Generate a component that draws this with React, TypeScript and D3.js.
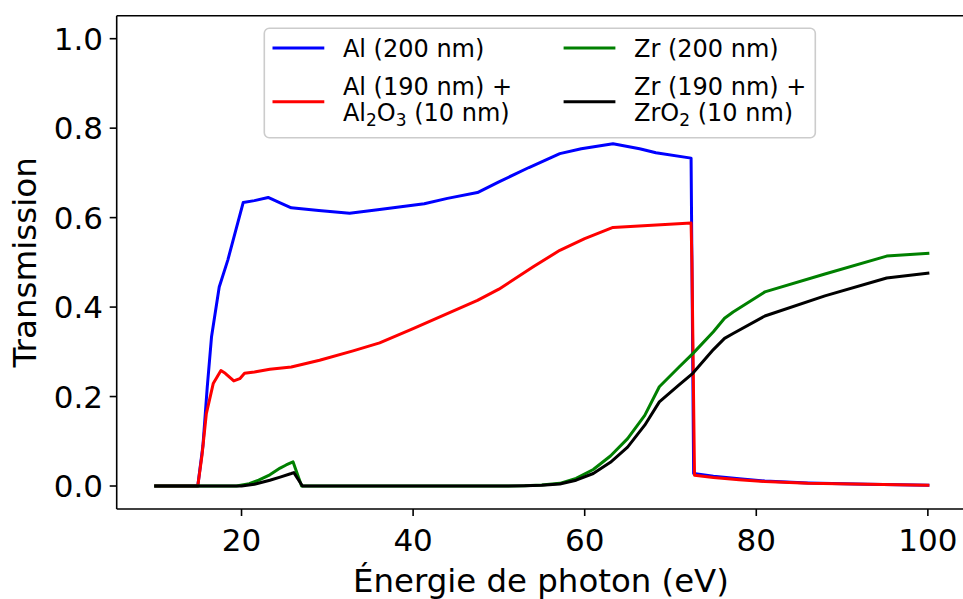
import React from "react";
import * as d3 from "d3";

// ---------- data ----------
const alX = [10, 14.9, 15.5, 16.0, 16.5, 17.4, 18.4, 20.2, 21.5, 23.1, 24.5, 25.8, 29, 32.6, 36.1, 41.3, 44, 47.5, 50, 53.5, 57.1, 59.6, 63.3, 66.4, 68.3, 72.4, 72.7, 75, 78, 81, 86, 93, 100];
const alY = [0, 0, 0.09, 0.22, 0.333, 0.445, 0.505, 0.634, 0.638, 0.645, 0.633, 0.622, 0.616, 0.61, 0.618, 0.631, 0.643, 0.656, 0.68, 0.712, 0.743, 0.754, 0.765, 0.754, 0.745, 0.733, 0.028, 0.022, 0.016, 0.011, 0.007, 0.004, 0.002];

const alOxX = [10, 14.9, 15.4, 15.9, 16.7, 17.6, 18.1, 19.1, 19.8, 20.35, 21.5, 23.3, 25.8, 29.1, 33, 36.1, 40, 47.5, 50, 54, 57.1, 60, 63.3, 72.4, 72.5, 72.8, 75, 78, 81, 86, 93, 100];
const alOxY = [0, 0, 0.07, 0.162, 0.229, 0.258, 0.252, 0.235, 0.24, 0.252, 0.255, 0.261, 0.266, 0.281, 0.302, 0.32, 0.352, 0.415, 0.44, 0.49, 0.527, 0.553, 0.578, 0.588, 0.5, 0.024, 0.019, 0.014, 0.01, 0.006, 0.004, 0.002];

const zrX = [10, 19.4, 20.9, 22, 23.3, 24.5, 25.2, 26.0, 27.0, 50, 53, 55, 57.1, 59, 61, 63, 65, 67, 68.7, 71, 72.6, 75, 76.3, 77.3, 81, 88, 95.2, 100];
const zrY = [0, 0, 0.005, 0.013, 0.025, 0.04, 0.047, 0.054, 0, 0, 0.0005, 0.002, 0.006, 0.017, 0.037, 0.067, 0.106, 0.158, 0.222, 0.266, 0.296, 0.345, 0.375, 0.389, 0.434, 0.474, 0.514, 0.52];

const zrOxX = [10, 20, 21.5, 23.3, 24.5, 25.8, 26.1, 27.1, 50, 53, 55, 57.1, 59, 61, 63, 65, 67, 68.7, 71, 72.6, 75, 76.3, 77.3, 81, 88, 95.2, 100];
const zrOxY = [0, 0, 0.004, 0.013, 0.02, 0.028, 0.03, 0, 0, 0.0004, 0.0015, 0.0045, 0.013, 0.028, 0.053, 0.087, 0.136, 0.188, 0.226, 0.252, 0.305, 0.33, 0.341, 0.38, 0.425, 0.465, 0.476];

const xTicks = [20, 40, 60, 80, 100];
const yTicks = [0.0, 0.2, 0.4, 0.6, 0.8, 1.0];

const seriesColors = ["#0000ff", "#ff0000", "#008000", "#000000"];

// ---------- layout ----------
const W = 963;
const H = 599;
const left = 116.7;
const right = 966.9;
const top = 15.7;
const bottom = 509;
const FONT = "DejaVu Sans";

export default function App() {
  const x = d3.scaleLinear().domain([5.45, 104.55]).range([left, right]);
  const y = d3.scaleLinear().domain([-0.0514, 1.0514]).range([bottom, top]);

  const line = d3
    .line<[number, number]>()
    .x((d) => x(d[0]))
    .y((d) => y(d[1]));

  const series = [
    { xs: alX, ys: alY, color: seriesColors[0] },
    { xs: alOxX, ys: alOxY, color: seriesColors[1] },
    { xs: zrX, ys: zrY, color: seriesColors[2] },
    { xs: zrOxX, ys: zrOxY, color: seriesColors[3] },
  ];

  const lgX = 264.3;
  const lgY = 28.3;
  const lgW = 551;
  const lgH = 109.4;
  const col1 = 272.5;
  const col2 = 563.6;
  const handleLen = 51.8;
  const textOff = 70.4;
  const lfs = 24;

  return (
    <svg
      width={W}
      height={H}
      style={{ position: "absolute", left: 0, top: 0, background: "#fff" }}
      fontFamily={FONT}
    >
      <rect x={0} y={0} width={W} height={H} fill="#fff" />
      <defs>
        <clipPath id="plotclip">
          <rect x={left} y={top} width={right - left} height={bottom - top} />
        </clipPath>
      </defs>

      {/* lines */}
      <g clipPath="url(#plotclip)">
        {series.map((s, i) => (
          <path
            key={i}
            d={line(s.xs.map((v, j) => [v, s.ys[j]] as [number, number])) || ""}
            fill="none"
            stroke={s.color}
            strokeWidth={3}
            strokeLinejoin="round"
            strokeLinecap="square"
          />
        ))}
      </g>

      {/* spines */}
      <g stroke="#000" strokeWidth={1.6} fill="none">
        <line x1={left} y1={top} x2={left} y2={bottom} />
        <line x1={left} y1={bottom} x2={right} y2={bottom} />
        <line x1={left} y1={top} x2={right} y2={top} />
        <line x1={right} y1={top} x2={right} y2={bottom} />
      </g>

      {/* x ticks */}
      {xTicks.map((t) => (
        <g key={"x" + t}>
          <line x1={x(t)} x2={x(t)} y1={bottom} y2={bottom + 7} stroke="#000" strokeWidth={1.6} />
          <text x={x(t)} y={551} fontSize={31} textAnchor="middle" fill="#000">
            {t}
          </text>
        </g>
      ))}

      {/* y ticks */}
      {yTicks.map((t) => (
        <g key={"y" + t}>
          <line x1={left - 7} x2={left} y1={y(t)} y2={y(t)} stroke="#000" strokeWidth={1.6} />
          <text x={103} y={y(t) + 11.2} fontSize={31} textAnchor="end" fill="#000">
            {t.toFixed(1)}
          </text>
        </g>
      ))}

      {/* axis labels */}
      <text x={541} y={592} fontSize={32.4} textAnchor="middle" fill="#000">
        Énergie de photon (eV)
      </text>
      <text
        transform={`translate(36,${(top + bottom) / 2}) rotate(-90)`}
        fontSize={32.6}
        textAnchor="middle"
        fill="#000"
      >
        Transmission
      </text>

      {/* legend */}
      <rect
        x={lgX}
        y={lgY}
        width={lgW}
        height={lgH}
        rx={5}
        fill="#fff"
        fillOpacity={0.8}
        stroke="#cccccc"
        strokeWidth={1.6}
      />
      <line x1={col1} x2={col1 + handleLen} y1={48} y2={48} stroke={seriesColors[0]} strokeWidth={3} />
      <text x={col1 + textOff} y={56.7} fontSize={lfs} fill="#000">
        Al (200 nm)
      </text>
      <line x1={col1} x2={col1 + handleLen} y1={101.7} y2={101.7} stroke={seriesColors[1]} strokeWidth={3} />
      <text x={col1 + textOff} y={95.4} fontSize={lfs} fill="#000">
        <tspan x={col1 + textOff}>Al (190 nm) +</tspan>
        <tspan x={col1 + textOff} dy={25.1}>Al</tspan>
        <tspan fontSize={17} dy={5}>2</tspan>
        <tspan dy={-5}>O</tspan>
        <tspan fontSize={17} dy={5}>3</tspan>
        <tspan dy={-5}> (10 nm)</tspan>
      </text>

      <line x1={col2} x2={col2 + handleLen} y1={48} y2={48} stroke={seriesColors[2]} strokeWidth={3} />
      <text x={col2 + textOff} y={56.7} fontSize={lfs} fill="#000">
        Zr (200 nm)
      </text>
      <line x1={col2} x2={col2 + handleLen} y1={101.7} y2={101.7} stroke={seriesColors[3]} strokeWidth={3} />
      <text x={col2 + textOff} y={95.4} fontSize={lfs} fill="#000">
        <tspan x={col2 + textOff}>Zr (190 nm) +</tspan>
        <tspan x={col2 + textOff} dy={25.1}>ZrO</tspan>
        <tspan fontSize={17} dy={5}>2</tspan>
        <tspan dy={-5}> (10 nm)</tspan>
      </text>
    </svg>
  );
}
